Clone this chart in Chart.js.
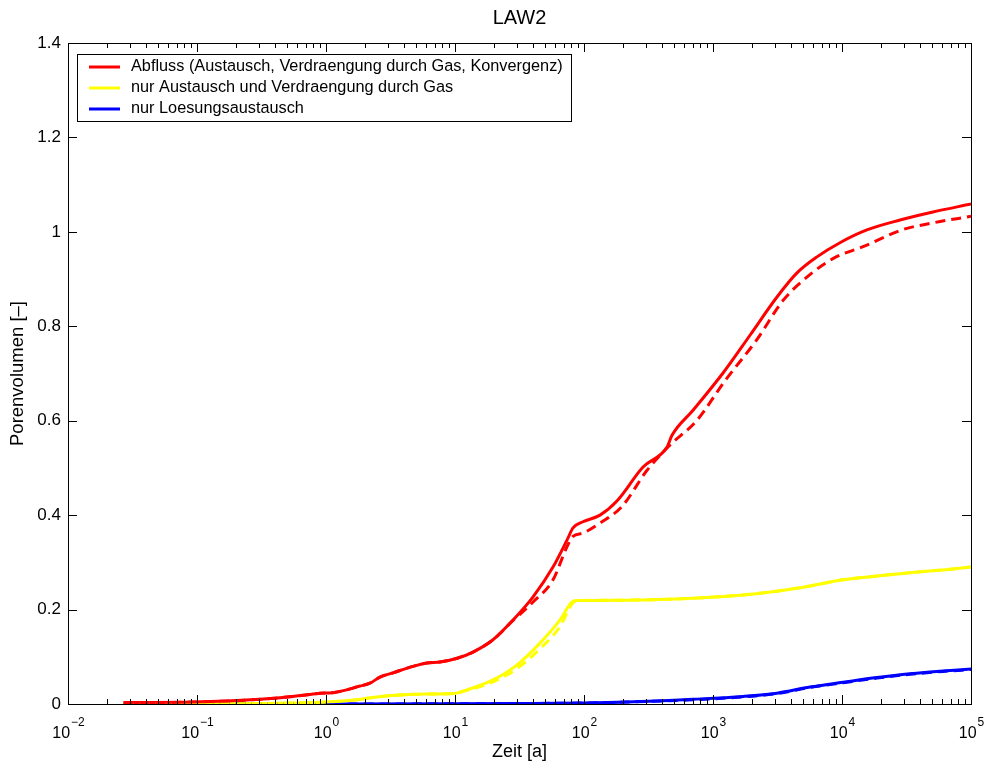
<!DOCTYPE html>
<html><head><meta charset="utf-8">
<script src="https://cdn.jsdelivr.net/npm/chart.js@4/dist/chart.umd.min.js"></script>
<style>html,body{margin:0;padding:0;background:#fff}</style>
</head><body>
<canvas id="c" width="986" height="764"></canvas>
<script>
// ---- text ----
const titleText = 'LAW2';
const xLabel = 'Zeit [a]';
const yLabel = 'Porenvolumen [–]';
const legendLabels = [
  'Abfluss (Austausch, Verdraengung durch Gas, Konvergenz)',
  'nur Austausch und Verdraengung durch Gas',
  'nur Loesungsaustausch'
];
// ---- axis ticks ----
const xDecades = [-2, -1, 0, 1, 2, 3, 4, 5];
const yTicks = [0, 0.2, 0.4, 0.6, 0.8, 1, 1.2, 1.4];

// ---- data (time in years, pore volume) ----
const redT = [0.027, 0.093, 0.31, 0.55, 0.79, 0.9, 1.13, 1.84, 2.19, 2.62, 3.31, 4.5, 6.06, 7.65, 10.4, 13.8, 19.7, 28.2, 40.3, 57.5, 73.8, 82.2, 98.2, 133, 180, 287, 440, 481, 700, 1196, 1936, 3134, 4478, 6400, 9640, 15600, 28200, 50700, 100000];
const redY = [0.003, 0.004, 0.010, 0.016, 0.021, 0.023, 0.024, 0.038, 0.044, 0.057, 0.066, 0.078, 0.087, 0.089, 0.097, 0.110, 0.136, 0.178, 0.227, 0.290, 0.347, 0.373, 0.386, 0.400, 0.430, 0.502, 0.544, 0.569, 0.622, 0.701, 0.781, 0.862, 0.913, 0.947, 0.977, 1.004, 1.025, 1.042, 1.059];

const redDashT = [0.027, 0.093, 0.31, 0.55, 0.79, 0.9, 1.13, 1.84, 2.19, 2.62, 3.31, 4.5, 6.06, 7.65, 10.4, 13.8, 19.7, 28.2, 40.3, 57.5, 73.8, 82.2, 98.2, 133, 198, 306, 458, 746, 1250, 2180, 3500, 5860, 9000, 14400, 29000, 50700, 100000];
const redDashY = [0.003, 0.004, 0.010, 0.016, 0.021, 0.023, 0.024, 0.038, 0.044, 0.057, 0.066, 0.078, 0.087, 0.089, 0.097, 0.110, 0.136, 0.177, 0.216, 0.263, 0.333, 0.355, 0.362, 0.383, 0.419, 0.494, 0.547, 0.600, 0.686, 0.771, 0.855, 0.913, 0.947, 0.968, 1.004, 1.019, 1.033];

const yelT = [0.027, 0.3, 1.0, 1.74, 2.48, 3.75, 6.06, 9.65, 12.4, 19.7, 30.3, 45.6, 65.2, 80.7, 88.3, 215, 700, 1710, 3130, 5650, 10200, 18700, 33600, 60700, 100000];
const yelY = [0.000, 0.001, 0.004, 0.009, 0.015, 0.019, 0.021, 0.022, 0.030, 0.051, 0.083, 0.129, 0.178, 0.216, 0.219, 0.220, 0.224, 0.231, 0.239, 0.250, 0.263, 0.271, 0.278, 0.284, 0.290];
const yelDashY = [0.000, 0.001, 0.004, 0.009, 0.015, 0.019, 0.021, 0.022, 0.029, 0.047, 0.075, 0.117, 0.164, 0.212, 0.219, 0.220, 0.224, 0.231, 0.239, 0.250, 0.263, 0.271, 0.278, 0.284, 0.290];

const bluT = [0.027, 1, 10, 30, 100, 215, 700, 1710, 3130, 5650, 10200, 18700, 33600, 60700, 100000];
const bluY = [0.000, 0.000, 0.0005, 0.001, 0.002, 0.004, 0.010, 0.016, 0.023, 0.036, 0.046, 0.056, 0.064, 0.070, 0.074];
const bluDashY = [0.000, 0.000, 0.0005, 0.001, 0.002, 0.004, 0.009, 0.015, 0.022, 0.035, 0.045, 0.055, 0.063, 0.069, 0.073];

const RED = '#ff0000', YEL = '#ffff00', BLU = '#0000ff';
const FONT = '"Liberation Sans", Arial, Helvetica, sans-serif';

function pts(t, y) { return t.map((v, i) => ({ x: v, y: y[i] })); }
function ds(t, y, color, dashed) {
  return {
    data: pts(t, y), borderColor: color, backgroundColor: color,
    borderWidth: 3, pointRadius: 0, fill: false,
    cubicInterpolationMode: 'monotone',
    borderDash: dashed ? [10, 6] : [],
    borderCapStyle: 'butt', borderJoinStyle: 'round'
  };
}

const frame = {
  id: 'frame',
  afterDraw(chart) {
    const ctx = chart.ctx, a = chart.chartArea;
    const xs = chart.scales.x, ys = chart.scales.y;
    ctx.save();
    ctx.strokeStyle = '#000'; ctx.lineWidth = 1;
    ctx.strokeRect(Math.round(a.left) + 0.5, Math.round(a.top) + 0.5, Math.round(a.right - a.left), Math.round(a.bottom - a.top));
    // ticks
    ctx.beginPath();
    xDecades.forEach(k => {
      const p = Math.round(xs.getPixelForValue(Math.pow(10, k))) + 0.5;
      ctx.moveTo(p, a.bottom); ctx.lineTo(p, a.bottom - 9);
      ctx.moveTo(p, a.top); ctx.lineTo(p, a.top + 9);
      if (k < 5) {
        for (let m = 2; m <= 9; m++) {
          const q = Math.round(xs.getPixelForValue(m * Math.pow(10, k))) + 0.5;
          ctx.moveTo(q, a.bottom); ctx.lineTo(q, a.bottom - 5);
          ctx.moveTo(q, a.top); ctx.lineTo(q, a.top + 5);
        }
      }
    });
    yTicks.forEach(v => {
      const p = Math.round(ys.getPixelForValue(v)) + 0.5;
      ctx.moveTo(a.left, p); ctx.lineTo(a.left + 9, p);
      ctx.moveTo(a.right, p); ctx.lineTo(a.right - 9, p);
    });
    ctx.stroke();
    // y tick labels
    ctx.fillStyle = '#000';
    ctx.font = '17px ' + FONT;
    ctx.textAlign = 'right'; ctx.textBaseline = 'middle';
    yTicks.forEach(v => {
      ctx.fillText(String(Math.round(v * 10) / 10), a.left - 7, ys.getPixelForValue(v));
    });
    // x tick labels 10^k
    ctx.textBaseline = 'alphabetic'; ctx.textAlign = 'left';
    xDecades.forEach(k => {
      const p = xs.getPixelForValue(Math.pow(10, k));
      ctx.font = '16px ' + FONT;
      const w1 = ctx.measureText('10').width;
      ctx.font = '12px ' + FONT;
      const e = (k < 0 ? '\u2212' : '') + String(Math.abs(k));
      const w2 = ctx.measureText(e).width;
      const x0 = p - (w1 + w2) / 2;
      ctx.font = '16px ' + FONT;
      ctx.fillText('10', x0, a.bottom + 34);
      ctx.font = '12px ' + FONT;
      ctx.fillText(e, x0 + w1 + 1, a.bottom + 22);
    });
    // title & axis labels
    ctx.textAlign = 'center'; ctx.textBaseline = 'middle';
    const cx = (a.left + a.right) / 2;
    ctx.font = '20px ' + FONT;
    ctx.fillText(titleText, cx, 18);
    ctx.font = '18px ' + FONT;
    ctx.fillText(xLabel, cx, 752);
    ctx.save();
    ctx.translate(18, (a.top + a.bottom) / 2);
    ctx.rotate(-Math.PI / 2);
    ctx.font = '18.5px ' + FONT;
    ctx.fillText(yLabel, 0, 0);
    ctx.restore();
    // legend
    const colors = [RED, YEL, BLU];
    ctx.font = '16.3px ' + FONT;
    let maxW = 0;
    legendLabels.forEach(s => { maxW = Math.max(maxW, ctx.measureText(s).width); });
    const lx = a.left + 9.5, ly = 54.5, lh = 21;
    const bw = Math.round(131 - lx + maxW + 9), bh = 67;
    ctx.fillStyle = '#fff';
    ctx.fillRect(lx, ly, bw, bh);
    ctx.strokeStyle = '#000'; ctx.lineWidth = 1;
    ctx.strokeRect(lx, ly, bw, bh);
    legendLabels.forEach((s, i) => {
      const yy = 67 + i * lh;
      ctx.strokeStyle = colors[i]; ctx.lineWidth = 3;
      ctx.beginPath(); ctx.moveTo(89, yy); ctx.lineTo(120, yy); ctx.stroke();
      ctx.fillStyle = '#000'; ctx.textAlign = 'left'; ctx.textBaseline = 'middle';
      ctx.fillText(s, 131, yy);
    });
    ctx.restore();
  }
};

new Chart(document.getElementById('c'), {
  type: 'line',
  data: {
    datasets: [
      ds(redDashT, redDashY, RED, true),
      ds(yelT, yelDashY, YEL, true),
      ds(bluT, bluDashY, BLU, true),
      ds(redT, redY, RED, false),
      ds(yelT, yelY, YEL, false),
      ds(bluT, bluY, BLU, false)
    ]
  },
  options: {
    responsive: false, animation: false, devicePixelRatio: 1,
    layout: { padding: { left: 68, right: 15, top: 43, bottom: 60 } },
    scales: {
      x: { type: 'logarithmic', min: 0.01, max: 100000, display: false },
      y: { type: 'linear', min: 0, max: 1.4, display: false }
    },
    plugins: { legend: { display: false }, title: { display: false }, tooltip: { enabled: false } }
  },
  plugins: [frame]
});
</script>
</body></html>
